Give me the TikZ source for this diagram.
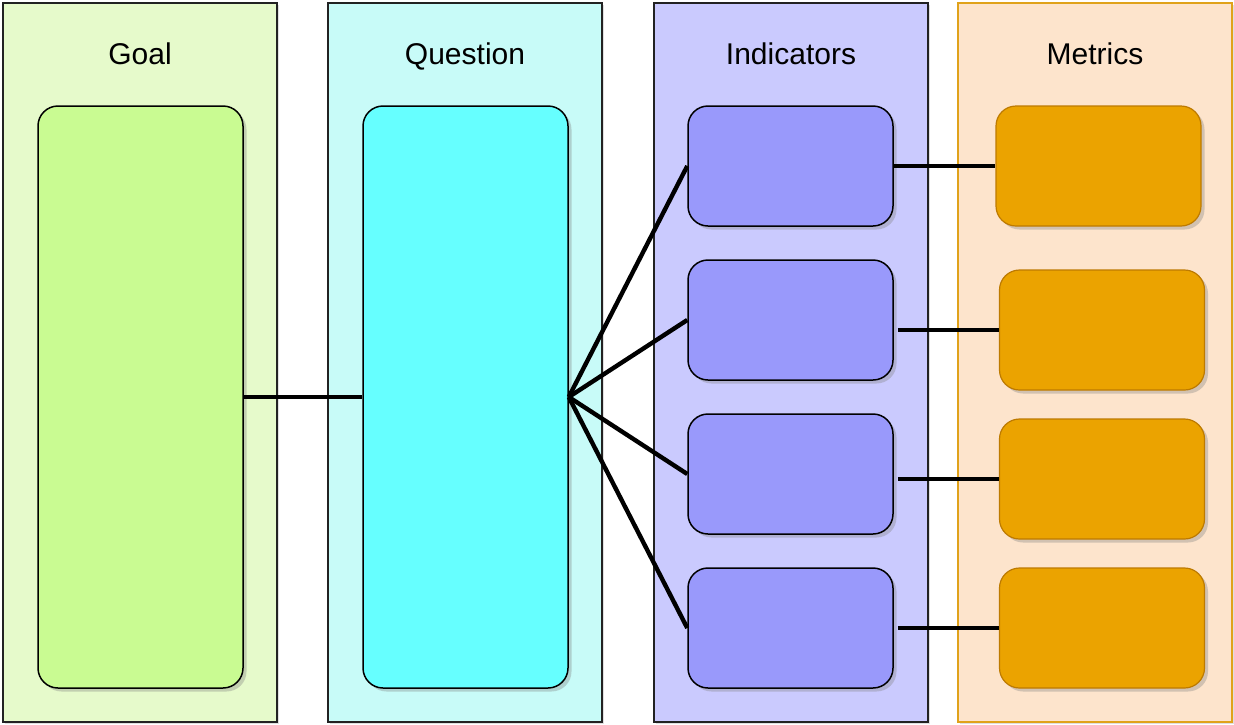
\documentclass[tikz,border=0pt]{standalone}
\usepackage{fontspec}
\setmainfont{Liberation Sans}
\usetikzlibrary{shadows}
\definecolor{goalbg}{HTML}{E6FACB}
\definecolor{goalfill}{HTML}{C9FB92}
\definecolor{qbg}{HTML}{C8FBF8}
\definecolor{qfill}{HTML}{66FFFF}
\definecolor{indbg}{HTML}{CACAFE}
\definecolor{indfill}{HTML}{9999FB}
\definecolor{metbg}{HTML}{FDE4CC}
\definecolor{metborder}{HTML}{E0A21A}
\definecolor{metfill}{HTML}{EBA300}
\definecolor{metedge}{HTML}{BD7A00}
\definecolor{frame}{HTML}{222222}
\tikzset{
  lane/.style={draw=frame, line width=1.6pt, minimum width=274pt, minimum height=719pt,
    inner sep=0pt, drop shadow={shadow xshift=1.5pt, shadow yshift=-1.5pt, opacity=0.25}},
  card/.style={draw=black, line width=1.5pt, rounded corners=20pt, minimum width=205pt,
    inner sep=0pt, drop shadow={shadow xshift=3.5pt, shadow yshift=-3.5pt, opacity=0.35}},
  metcard/.style={card, fill=metfill, draw=metedge, line width=1.2pt, minimum height=120pt},
  title/.style={font=\fontsize{30}{36}\selectfont, anchor=base, inner sep=0pt},
  link/.style={line width=4.4pt, black},
}
\begin{document}
\begin{tikzpicture}[x=1pt, y=-1pt]
\useasboundingbox (0,0) rectangle (1234,724);

% swimlanes
\node[lane, fill=goalbg] (laneG) at (140,362.5) {};
\node[lane, fill=qbg] (laneQ) at (465,362.5) {};
\node[lane, fill=indbg] (laneI) at (791,362.5) {};
\node[lane, fill=metbg, draw=metborder] (laneM) at (1095,362.5) {};

% lane titles
\node[title] (tG) at (140,64) {Goal};
\node[title] (tQ) at (465,64) {Question};
\node[title] (tI) at (791,64) {Indicators};
\node[title] (tM) at (1095,64) {Metrics};

% goal and question
\node[card, fill=goalfill, minimum height=582pt] (g) at (140.5,397) {};
\node[card, fill=qfill, minimum height=582pt] (q) at (465.5,397) {};

% indicators
\foreach \n/\y in {1/166, 2/320, 3/474, 4/628}
  \node[card, fill=indfill, minimum height=120pt] (i\n) at (790.5,\y) {};

% metrics
\node[metcard] (m1) at (1098.5,166) {};
\node[metcard] (m2) at (1102,330) {};
\node[metcard] (m3) at (1102,479) {};
\node[metcard] (m4) at (1102,628) {};

% connectors
\draw[link] (g.east) -- (q.east -| q.west);
\foreach \n in {1,2,3,4}
  \draw[link] (q.east) -- (i\n.west);
\draw[link] (i1.east |- m1.west) -- (m1.west);
\foreach \n in {2,3,4}
  \draw[link] ([xshift=4pt]i\n.east |- m\n.west) -- (m\n.west);
\end{tikzpicture}
\end{document}
